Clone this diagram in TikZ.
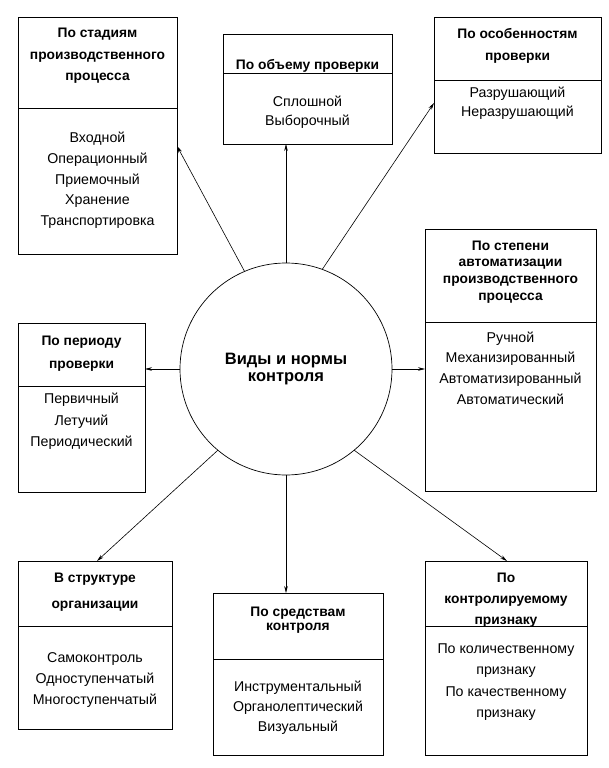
\documentclass[tikz,border=0pt]{standalone}
\usepackage{fontspec}
\setmainfont{Liberation Sans}
\usetikzlibrary{arrows.meta}
\begin{document}
\begin{tikzpicture}[x=1pt,y=-1pt,
  box/.style={draw,line width=0.9pt,inner sep=0pt,outer sep=0pt},
  ttl/.style={font=\bfseries\fontsize{13.8}{#1}\selectfont,align=center,inner sep=0pt,yshift=-2pt},
  ttl/.default=21.5,
  bdy/.style={font=\fontsize{14.2}{#1}\selectfont,align=center,inner sep=0pt,yshift=-2pt},
  bdy/.default=20.7,
  divider/.style={line width=0.9pt},
  arr/.style={-{Stealth[length=7pt,width=3.6pt]},line width=0.6pt},
  hub/.style={circle,draw,line width=0.7pt,minimum size=212pt,inner sep=0pt,outer sep=0pt,
    font=\bfseries\fontsize{16.5}{17}\selectfont,align=center}]
\useasboundingbox (0,0) rectangle (609,768);

% centre
\node[hub] (c) at (286,369) {Виды и нормы\\контроля};

% box 1
\node[box,minimum width=159pt,minimum height=237pt] (b1) at (97.5,135.5) {};
\draw[divider] (b1.west |- 0,108) -- (b1.east |- 0,108);
\node[ttl=21.5] (t1) at (97.5,54) {По стадиям\\производственного\\процесса};
\node[bdy=20.7] (l1) at (97.5,178.5) {Входной\\Операционный\\Приемочный\\Хранение\\Транспортировка};

% box 2
\node[box,minimum width=169pt,minimum height=110pt] (b2) at (307.5,89) {};
\draw[divider] (b2.west |- 0,73) -- (b2.east |- 0,73);
\node[ttl] (t2) at (307.5,64) {По объему проверки};
\node[bdy=19] (l2) at (307.5,110.5) {Сплошной\\Выборочный};

% box 3
\node[box,minimum width=167pt,minimum height=136pt] (b3) at (517.5,85) {};
\draw[divider] (b3.west |- 0,80) -- (b3.east |- 0,80);
\node[ttl=22] (t3) at (517.5,44) {По особенностям\\проверки};
\node[bdy=19] (l3) at (517.5,101.5) {Разрушающий\\Неразрушающий};

% box 4
\node[box,minimum width=171pt,minimum height=262pt] (b4) at (510.5,360) {};
\draw[divider] (b4.west |- 0,322) -- (b4.east |- 0,322);
\node[ttl=16.8] (t4) at (510.5,270) {По степени\\автоматизации\\производственного\\процесса};
\node[bdy=20.7] (l4) at (510.5,366) {Ручной\\Механизированный\\Автоматизированный\\Автоматический};

% box 5
\node[box,minimum width=127pt,minimum height=169pt] (b5) at (81.5,407.5) {};
\draw[divider] (b5.west |- 0,386) -- (b5.east |- 0,386);
\node[ttl=23] (t5) at (81.5,351.5) {По периоду\\проверки};
\node[bdy=21.5] (l5) at (81.5,419.5) {Первичный\\Летучий\\Периодический};

% box 6
\node[box,minimum width=154pt,minimum height=168pt] (b6) at (95,645) {};
\draw[divider] (b6.west |- 0,626) -- (b6.east |- 0,626);
\node[ttl=26] (t6) at (95,590) {В структуре\\организации};
\node[bdy=21] (l6) at (95,678) {Самоконтроль\\Одноступенчатый\\Многоступенчатый};

% box 7
\node[box,minimum width=170pt,minimum height=162pt] (b7) at (298,674) {};
\draw[divider] (b7.west |- 0,659) -- (b7.east |- 0,659);
\node[ttl=14.5] (t7) at (298,618) {По средствам\\контроля};
\node[bdy=20] (l7) at (298,706) {Инструментальный\\Органолептический\\Визуальный};

% box 8
\node[box,minimum width=162pt,minimum height=194pt] (b8) at (506,658) {};
\draw[divider] (b8.west |- 0,626) -- (b8.east |- 0,626);
\node[ttl=21] (t8) at (506,598) {По\\контролируемому\\признаку};
\node[bdy=21.3] (l8) at (506,680) {По количественному\\признаку\\По качественному\\признаку};

% connectors
\draw[arr] (c.113.5) -- (b1.east |- 0,146);
\draw[arr] (c.north) -- (b2.south -| c.north);
\draw[arr] (c.70) -- (b3.west |- 0,103);
\draw[arr] (c.east) -- (b4.west |- c.east);
\draw[arr] (c.west) -- (b5.east |- c.west);
\draw[arr] (c.230) -- (b6.north -| 97,0);
\draw[arr] (c.south) -- (b7.north -| c.south);
\draw[arr] (c.310) -- (b8.north -| 507,0);
\end{tikzpicture}
\end{document}
